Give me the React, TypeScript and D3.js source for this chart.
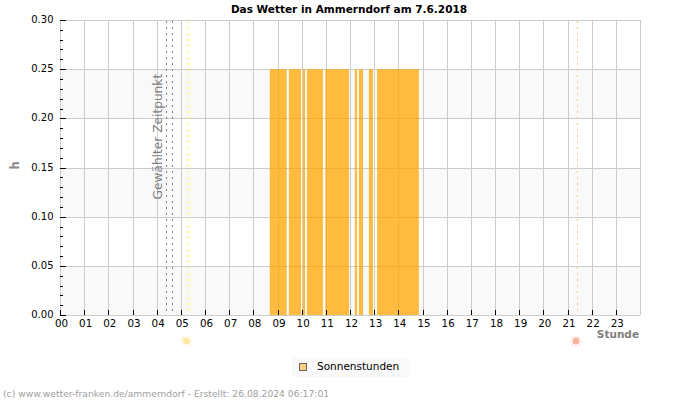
import React from "react";
import * as d3 from "d3";

const width = 700;
const height = 400;
const margin = { top: 20, right: 60, bottom: 85, left: 60 };

const title = "Das Wetter in Ammerndorf am 7.6.2018";
const footer = "(c) www.wetter-franken.de/ammerndorf - Erstellt: 26.08.2024 06:17:01";
const seriesName = "Sonnenstunden";
const selectedLabel = "Gewählter Zeitpunkt";

// Sunny intervals in hours of the day, each one drawn at the same level
const sunStarts = [8.68, 9.47, 10.05, 10.22, 10.98, 12.2, 12.37, 12.78, 13.12];
const sunEnds = [9.38, 9.97, 10.14, 10.88, 11.96, 12.29, 12.54, 12.95, 14.85];
const sunLevel = 0.25;

const selectedTimes = [4.4, 4.64];
const sunrise = 5.31;
const sunset = 21.4;

const hours = d3.range(0, 24);
const yMajor = [0, 0.05, 0.1, 0.15, 0.2, 0.25, 0.3];
const yMinor = d3.range(0, 31).map((d) => d / 100);
const bands: [number, number][] = [[0, 0.05], [0.1, 0.15], [0.2, 0.25]];

const x = d3.scaleLinear([0, 24], [margin.left, width - margin.right]);
const y = d3.scaleLinear([0, 0.3], [height - margin.bottom, margin.top]);

function SunIcon(props: { cx: number; cy: number; color: string; rays: string }) {
    const { cx, cy, color, rays } = props;
    const ray = d3.lineRadial<number>().radius((d) => d).angle(0);
    return <g transform={`translate(${cx},${cy})`}>
        {d3.range(0, 360, 45).map((a) => (
            <path key={a} transform={`rotate(${a})`} d={ray([3.5, 5.8])!} stroke={rays} strokeWidth={1} />
        ))}
        <circle r={3.4} fill={color} />
    </g>;
}

export default function App() {
    const font = "'DejaVu Sans', sans-serif";
    const left = margin.left;
    const right = width - margin.right;
    const bottom = height - margin.bottom;

    return <svg width={width} height={height} fontFamily={font}
        style={{ position: "absolute", left: 0, top: 0, background: "#fff" }}>
        <text x={349} y={12.5} textAnchor="middle" fontSize={10.5} fontWeight="bold" fill="#000">{title}</text>

        {/* Bands and grid */}
        {bands.map(([a, b]) => (
            <rect key={a} x={left} y={y(b)} width={right - left} height={y(a) - y(b)} fill="#f9f9f9" />
        ))}
        {yMajor.map((d) => (
            <line key={d} x1={left} x2={right} y1={Math.round(y(d)) + 0.5} y2={Math.round(y(d)) + 0.5} stroke="#cccccc" />
        ))}
        {hours.map((h) => (
            <line key={h} x1={Math.round(x(h)) + 0.5} x2={Math.round(x(h)) + 0.5} y1={margin.top} y2={bottom} stroke="#cccccc" />
        ))}
        <line x1={right + 0.5} x2={right + 0.5} y1={margin.top} y2={bottom} stroke="#cccccc" />

        {/* Sunshine */}
        {sunStarts.map((s, i) => (
            <rect key={s} x={x(s)} y={y(sunLevel)} width={x(sunEnds[i]) - x(s)} height={y(0) - y(sunLevel)}
                fill="#ffa500" fillOpacity={0.75} />
        ))}

        {/* Ticks */}
        {yMinor.map((d) => (
            <line key={d} x1={left} x2={left + 3} y1={Math.round(y(d)) + 0.5} y2={Math.round(y(d)) + 0.5} stroke="#000" />
        ))}
        {yMajor.map((d) => (
            <g key={d}>
                <line x1={left} x2={left + 6} y1={Math.round(y(d)) + 0.5} y2={Math.round(y(d)) + 0.5} stroke="#000" />
                <text x={53.5} y={y(d) + 3} textAnchor="end" fontSize={10} fill="#000">{d.toFixed(2)}</text>
            </g>
        ))}
        {hours.map((h) => (
            <g key={h}>
                <line x1={Math.round(x(h)) + 0.5} x2={Math.round(x(h)) + 0.5} y1={bottom - 5} y2={bottom} stroke="#000" />
                <text x={x(h) + 1.5} y={bottom + 12} textAnchor="middle" fontSize={10.3} fill="#000">{String(h).padStart(2, "0")}</text>
            </g>
        ))}

        {/* Selected time, sunrise and sunset markers */}
        {selectedTimes.map((t) => (
            <line key={t} x1={Math.round(x(t)) + 0.5} x2={Math.round(x(t)) + 0.5} y1={margin.top + 1} y2={bottom}
                stroke="#808080" strokeDasharray="2 4" />
        ))}
        <line x1={Math.round(x(sunrise)) + 0.5} x2={Math.round(x(sunrise)) + 0.5} y1={margin.top + 1} y2={bottom}
            stroke="#ffff33" strokeDasharray="2 4" />
        <line x1={Math.round(x(sunset)) + 0.5} x2={Math.round(x(sunset)) + 0.5} y1={margin.top + 1} y2={bottom}
            stroke="#f4c878" strokeDasharray="2 4" />
        <text transform={`translate(161.5,199.5) rotate(-90)`} fontSize={12.2} fill="#808080">{selectedLabel}</text>

        <SunIcon cx={x(sunrise) - 1.8} cy={341} color="#ffe9a0" rays="#ffeebb" />
        <SunIcon cx={x(sunset) - 1.2} cy={341} color="#ffb0a0" rays="#ffcfc4" />

        {/* Axis titles */}
        <text transform="translate(19,165.5) rotate(-90)" textAnchor="middle" fontSize={11.5} fontWeight="bold" fill="#888888">h</text>
        <text x={639} y={338} textAnchor="end" fontSize={10.5} fontWeight="bold" fill="#808080">Stunde</text>

        {/* Legend */}
        <rect x={292} y={358} width={117} height={19} fill="#f9f9f9" />
        <rect x={299.5} y={363.5} width={7} height={7} fill="#ffcc80" stroke="#666" />
        <text x={317} y={370} fontSize={10.5} fill="#000">{seriesName}</text>

        <text x={3} y={397} fontSize={9.2} fill="#a0a0a0">{footer}</text>
    </svg>;
}
